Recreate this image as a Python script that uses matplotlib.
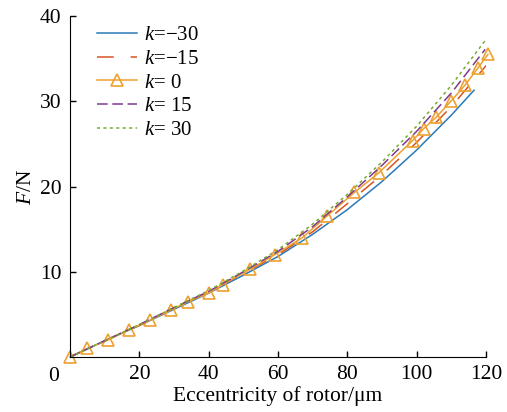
import matplotlib
matplotlib.use('Agg')
import matplotlib.pyplot as plt

plt.rcParams['font.family'] = 'Liberation Serif'
plt.rcParams['mathtext.fontset'] = 'custom'
plt.rcParams['mathtext.it'] = 'Liberation Serif:italic'
plt.rcParams['mathtext.rm'] = 'Liberation Serif'

# curve data
x_m30 = [0, 10, 20, 30, 40, 50, 60, 70, 80, 90, 100, 110, 116.5]
f_m30 = [0, 1.9, 3.7, 5.6, 7.5, 9.6, 11.8, 14.4, 17.3, 20.6, 24.3, 28.4, 31.3]
x_m15 = [0, 10, 20, 30, 40, 50, 60, 70, 80, 90, 100, 110, 120]
f_m15 = [0, 1.9, 3.7, 5.7, 7.6, 9.8, 12.0, 14.7, 18.0, 21.4, 25.2, 29.4, 34.2]
x_0 = [0, 5, 11, 17, 23, 29, 34, 40, 44, 52, 59, 67, 74, 82, 89, 98.8,
       102, 105.5, 109.8, 113.9, 117.6, 120.5]
f_0 = [0, 1.0, 2.0, 3.2, 4.3, 5.5, 6.5, 7.5, 8.5, 10.3, 12.0, 14.0, 16.5,
       19.3, 21.6, 25.4, 26.8, 28.1, 30.0, 31.9, 33.9, 35.5]
x_15 = [0, 10, 20, 30, 40, 50, 60, 70, 80, 90, 100, 110, 119.7]
f_15 = [0, 1.9, 3.8, 5.8, 7.7, 10.0, 12.4, 15.3, 18.8, 22.5, 26.5, 31.0, 36.1]
x_30 = [0, 10, 20, 30, 40, 50, 60, 70, 80, 90, 100, 110, 120.2]
f_30 = [0, 1.9, 3.8, 5.8, 7.8, 10.1, 12.6, 15.6, 19.1, 22.9, 27.1, 31.9, 37.4]

fig = plt.figure(figsize=(5.07, 4.12), dpi=100)
ax = fig.add_axes([0.138, 0.1335, 0.821, 0.8275])

ax.plot(x_m30, f_m30, color='#2a7ab9', lw=1.1, label=r'$k$=−30')
ax.plot(x_m15, f_m15, color='#d9541f', lw=1.1, ls=(0, (11, 11)), label=r'$k$=−15')
ax.plot(x_0, f_0, color='#eda030', lw=1.1, marker='^', ms=8, mfc='none',
        mew=1.2, clip_on=False, label=r'$k$= 0')
ax.plot(x_15, f_15, color='#7e3a8e', lw=1.1, ls=(0, (7, 3)), label=r'$k$= 15')
ax.plot(x_30, f_30, color='#77ac30', lw=1.1, ls=(0, (2, 2.2)), label=r'$k$= 30')

ax.set_xlim(0, 120)
ax.set_ylim(0, 40)
ax.set_xticks([20, 40, 60, 80, 100, 120])
ax.set_yticks([10, 20, 30, 40])
ax.text(-0.04, -0.03, '0', transform=ax.transAxes, ha='center', va='top', fontsize=15.5)
ax.tick_params(direction='in', labelsize=15.5, length=4, width=1, pad=6)
ax.spines['top'].set_visible(False)
ax.spines['right'].set_visible(False)
ax.set_xlabel('Eccentricity of rotor/μm', fontsize=15.5, labelpad=1)
ax.set_ylabel(r'$F$/N', fontsize=15.5, labelpad=3)

ax.legend(loc='upper left', frameon=False, fontsize=15, handlelength=1.9,
          labelspacing=0.2, borderaxespad=0.3, handletextpad=0.35,
          bbox_to_anchor=(0.03, 1.015))

fig.savefig('out.png', dpi=100)
